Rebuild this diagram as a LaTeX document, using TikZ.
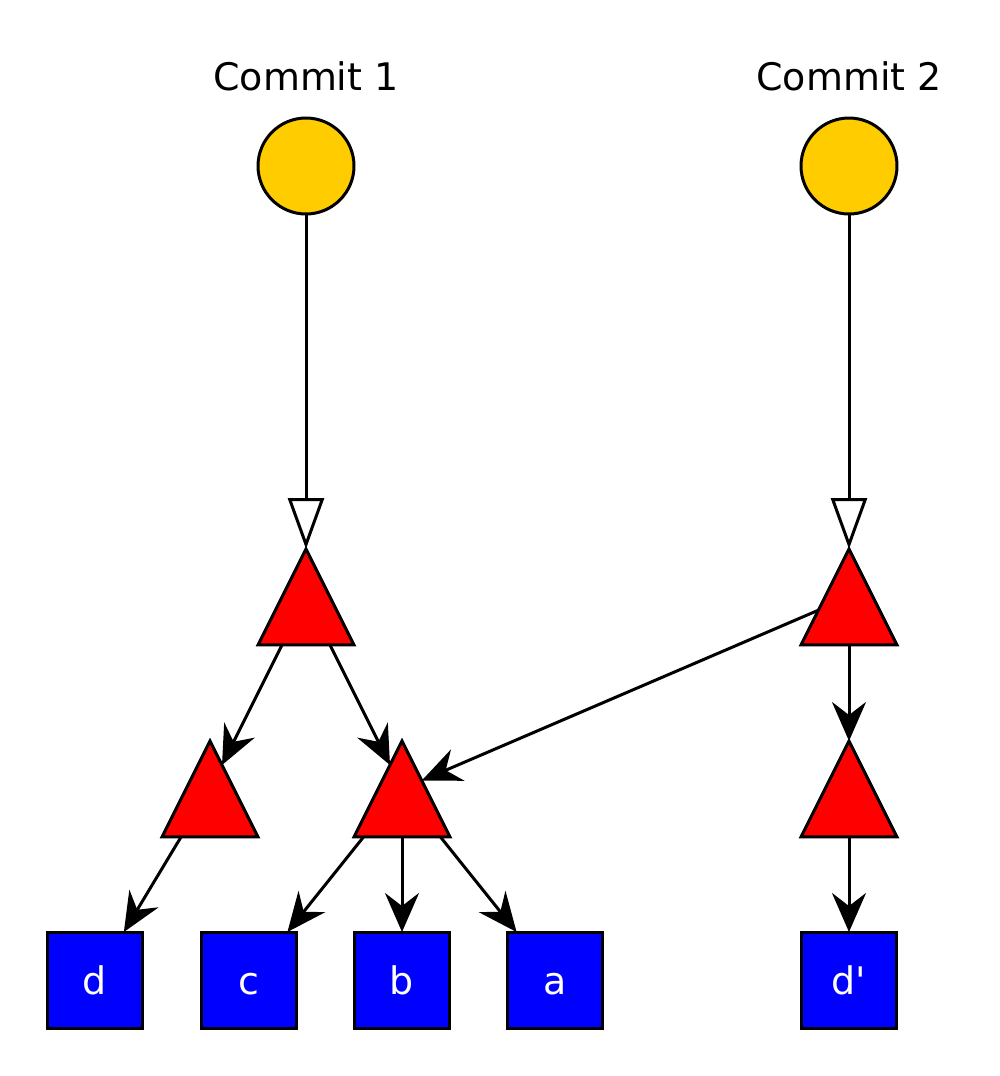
\documentclass[tikz,border=0pt]{standalone}
\usepackage{fontspec}
\setmainfont{DejaVu Sans}
\usetikzlibrary{arrows.meta,shapes.geometric,calc}
\usepackage{xcolor}
\definecolor{commitcol}{HTML}{FFCC00}

\begin{document}
\begin{tikzpicture}[x=0.02cm, y=-0.02cm, line width=0.06cm,
	font=\fontsize{21.6}{26}\selectfont,
	commit/.style={draw, circle, fill=commitcol, minimum size=1.92cm, inner sep=0, outer sep=0},
	tree/.style={draw, isosceles triangle, shape border rotate=90, isosceles triangle stretches,
		minimum width=1.92cm, minimum height=1.92cm, inner sep=0, outer sep=0, fill=red, anchor=apex},
	blob/.style={draw, rectangle, fill=blue, text=white, minimum size=1.92cm, inner sep=0, outer sep=0,
		text height=0.58cm, text depth=0cm},
	ptr/.style={-{Stealth[length=0.78cm, width=0.68cm, inset=0.26cm]}},
	root/.style={-{Triangle[open, length=1.02cm, width=0.72cm, fill=white]}}]
	\useasboundingbox (0, 0) rectangle (1000, 1076);
	\node (l1) [anchor=base] at (306, 90) {Commit 1};
	\node (l2) [anchor=base] at (849, 90) {Commit 2};
	\node (c1) [commit] at (306, 166) {};
	\node (c2) [commit] at (849, 166) {};
	\node (t1) [tree] at (306, 549) {};
	\node (t2) [tree] at (849, 549) {};
	\node (t3) [tree] at (210, 741) {};
	\node (t4) [tree] at (402, 741) {};
	\node (t5) [tree] at (849, 741) {};
	\node (d) [blob] at (95, 980) {d};
	\node (c) [blob] at (249, 980) {c};
	\node (b) [blob] at (402, 980) {b};
	\node (a) [blob] at (555, 980) {a};
	\node (dp) [blob] at (849, 980) {d\textquotesingle};
	\draw[root] (c1) -- (t1.apex);
	\draw[root] (c2) -- (t2.apex);
	\draw[ptr] ($(t1.apex)+(-24,96)$) -- ($(t3.apex)+(12,24)$);
	\draw[ptr] ($(t1.apex)+(24,96)$) -- ($(t4.apex)+(-12,24)$);
	\draw[ptr] ($(t2.apex)+(-30.6,61.2)$) -- ($(t4.apex)+(19.8,39.5)$);
	\draw[ptr] ($(t2.apex)+(0,96)$) -- (t5.apex);
	\draw[ptr] ($(t3.apex)+(-29,96)$) -- (d);
	\draw[ptr] ($(t4.apex)+(-38.5,96)$) -- (c);
	\draw[ptr] ($(t4.apex)+(0,96)$) -- (b);
	\draw[ptr] ($(t4.apex)+(38.5,96)$) -- (a);
	\draw[ptr] ($(t5.apex)+(0,96)$) -- (dp);
\end{tikzpicture}
\end{document}
